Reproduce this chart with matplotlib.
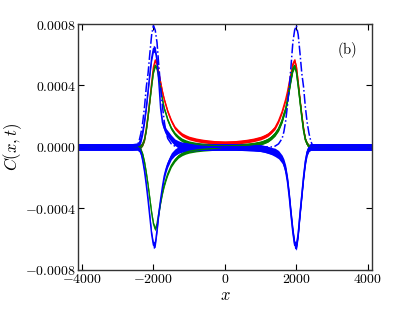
import numpy as np
import matplotlib
matplotlib.use("Agg")
import matplotlib.pyplot as plt

# positions along x (shared grid for all curves)
x = [-4100, -3500, -3000, -2600, -2450, -2400, -2350, -2300, -2250, -2200,
     -2150, -2100, -2050, -2000, -1950, -1900, -1850, -1800, -1750, -1700,
     -1650, -1600, -1500, -1400, -1300, -1200, -1100, -1000, -800, -600,
     -300, 0, 300,
     600, 800, 1000, 1100, 1200, 1300, 1400, 1500, 1600, 1650,
     1700, 1750, 1800, 1850, 1900, 1950, 2000, 2050, 2100, 2150,
     2200, 2250, 2300, 2350, 2400, 2450, 2600, 3000, 3500, 4100]

# C(x,t) values in units of 1e-4
red = [0, 0, 0, 0, 0, 0, 0.05, 0.2, 0.5, 1.2,
       2.1, 3.1, 4.2, 5.2, 5.65, 5.4, 4.8, 4.2, 3.6, 3.1,
       2.7, 2.3, 1.7, 1.25, 1.0, 0.8, 0.68, 0.58, 0.46, 0.38,
       0.3, 0.28, 0.3,
       0.38, 0.46, 0.58, 0.68, 0.8, 1.0, 1.25, 1.7, 2.3, 2.7,
       3.1, 3.6, 4.2, 4.8, 5.4, 5.65, 5.2, 4.2, 3.1, 2.1,
       1.2, 0.5, 0.2, 0.05, 0, 0, 0, 0, 0, 0]

green_a = [0, 0, 0, 0, 0, 0, 0.05, 0.2, 0.5, 1.1,
           2.0, 3.0, 4.0, 4.9, 5.3, 5.1, 4.5, 3.8, 3.1, 2.5,
           2.15, 1.75, 1.2, 0.85, 0.62, 0.45, 0.35, 0.27, 0.18, 0.13,
           0.09, 0.07, 0.09,
           0.13, 0.18, 0.27, 0.35, 0.45, 0.62, 0.85, 1.2, 1.75, 2.15,
           2.5, 3.1, 3.8, 4.5, 5.1, 5.3, 4.9, 4.0, 3.0, 2.0,
           1.1, 0.5, 0.2, 0.05, 0, 0, 0, 0, 0, 0]

green_b = [0, 0, 0, 0, 0, -0.05, -0.2, -0.5, -1.0, -1.7,
           -2.5, -3.4, -4.3, -5.0, -5.35, -5.0, -4.3, -3.6, -3.0, -2.5,
           -2.1, -1.75, -1.2, -0.85, -0.6, -0.45, -0.35, -0.28, -0.2, -0.15,
           -0.1, 0, 0.06,
           0.1, 0.16, 0.25, 0.33, 0.43, 0.6, 0.82, 1.15, 1.7, 2.1,
           2.45, 3.0, 3.7, 4.4, 5.0, 5.25, 4.85, 3.95, 2.95, 1.95,
           1.05, 0.45, 0.18, 0.04, 0, 0, 0, 0, 0, 0]

blue_a = [0, 0, 0, 0, 0.05, 0.2, 0.5, 1.0, 1.7, 2.6,
          3.7, 4.8, 5.8, 6.4, 6.3, 5.6, 4.2, 2.5, 1.6, 1.25,
          1.0, 0.85, 0.55, 0.3, 0.18, 0.1, 0.07, 0.05, 0.03, 0,
          0, 0, 0,
          -0.02, -0.04, -0.08, -0.12, -0.18, -0.25, -0.3, -0.45, -0.75, -1.0,
          -1.4, -2.1, -3.1, -4.3, -5.4, -6.3, -6.5, -5.7, -4.4, -3.2,
          -2.0, -1.0, -0.35, -0.08, 0, 0, 0, 0, 0, 0]

blue_b = [0, 0, 0, 0, 0, -0.1, -0.35, -0.9, -1.6, -2.5,
          -3.5, -4.6, -5.7, -6.4, -6.3, -5.4, -4.3, -3.4, -2.6, -1.9,
          -1.45, -1.1, -0.6, -0.35, -0.2, -0.12, -0.08, -0.05, -0.02, 0,
          0, 0, 0,
          -0.02, -0.04, -0.08, -0.13, -0.2, -0.28, -0.4, -0.55, -0.85, -1.15,
          -1.6, -2.3, -3.3, -4.5, -5.6, -6.4, -6.4, -5.6, -4.3, -3.1,
          -1.9, -0.9, -0.3, -0.05, 0, 0, 0, 0, 0, 0]

blue_dashdot = [0, 0, 0, 0, 0.1, 0.4, 0.9, 1.6, 2.6, 3.9,
                4.8, 6.1, 7.3, 7.9, 7.6, 6.8, 5.3, 3.9, 2.7, 1.7,
                1.0, 0.55, 0.2, 0.05, 0, 0, 0, 0, 0, 0,
                0, 0, 0,
                0, 0, 0, 0, 0, 0, 0.05, 0.2, 0.55, 1.0,
                1.7, 2.7, 3.9, 5.3, 6.8, 7.6, 7.9, 7.3, 6.1, 4.8,
                3.9, 2.6, 1.6, 0.9, 0.4, 0.1, 0, 0, 0, 0]

# spread of the noisy traces (same units)
noise_blue = 0.22
noise_rg = 0.12

xticks = [-4000, -2000, 0, 2000, 4000]
xtick_labels = ['$-4000$', '$-2000$', '$0$', '$2000$', '$4000$']
yticks = [-0.0008, -0.0004, 0.0, 0.0004, 0.0008]
ytick_labels = ['$-0.0008$', '$-0.0004$', '$0.0000$', '$0.0004$', '$0.0008$']

scale = 1e-4

plt.rcParams['mathtext.fontset'] = 'cm'
plt.rcParams['font.family'] = 'DejaVu Serif'

fig = plt.figure(figsize=(4.15, 3.12), dpi=100)
ax = fig.add_axes([0.188, 0.135, 0.708, 0.788])

xa = np.array(x)
curves = [(red, 'red', noise_rg), (green_a, 'green', noise_rg),
          (green_b, 'green', noise_rg), (blue_a, 'blue', noise_blue),
          (blue_b, 'blue', noise_blue)]
for vals, col, nz in curves:
    y = np.array(vals) * scale
    ax.fill_between(xa, y - nz * scale, y + nz * scale, color=col, lw=0)
    ax.plot(xa, y, color=col, lw=1.0)

ax.plot(xa, np.array(blue_dashdot) * scale, color='blue', lw=1.1, ls='-.')

ax.set_xlim(-4110, 4110)
ax.set_ylim(-0.0008, 0.0008)
ax.set_xticks(xticks)
ax.set_xticklabels(xtick_labels, fontsize=10)
ax.set_yticks(yticks)
ax.set_yticklabels(ytick_labels, fontsize=10)
ax.tick_params(direction='in', length=4, width=0.8, pad=1.5,
               top=True, right=True)
for s in ax.spines.values():
    s.set_linewidth(1.0)
    s.set_color('#333333')

ax.set_xlabel('$x$', fontsize=12, labelpad=1)
ax.set_ylabel('$C(x,t)$', fontsize=12, labelpad=1)
ax.text(0.915, 0.894, '$\\mathrm{(b)}$', transform=ax.transAxes,
        fontsize=10.5, ha='center', va='center')

fig.savefig('out.png', dpi=100)
